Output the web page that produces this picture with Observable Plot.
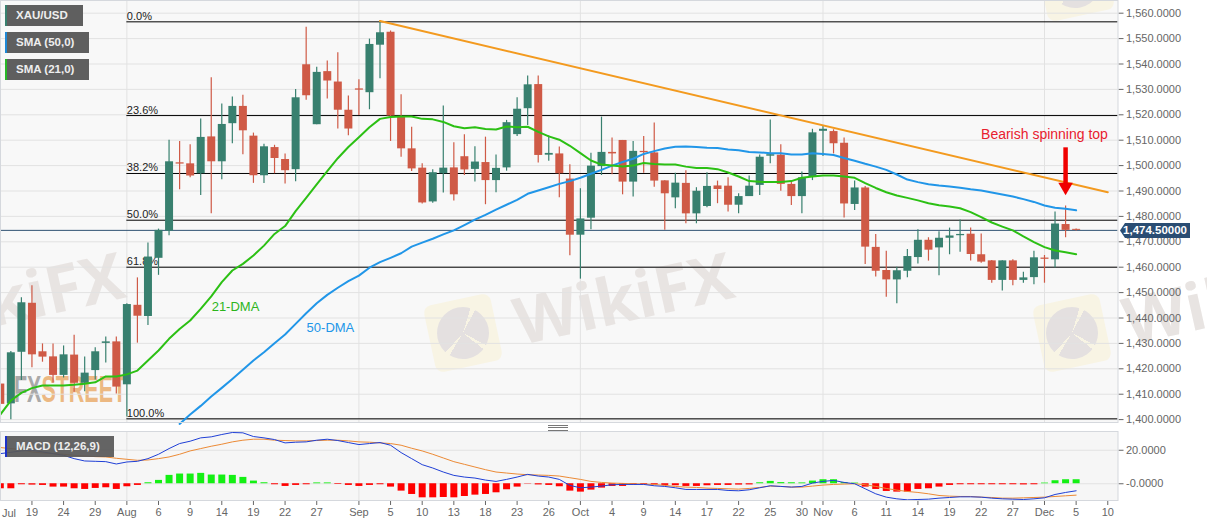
<!DOCTYPE html>
<html><head><meta charset="utf-8">
<script src="https://cdn.jsdelivr.net/npm/d3@7"></script>
<script src="https://cdn.jsdelivr.net/npm/@observablehq/plot@0.6"></script>
<style>
html,body{margin:0;padding:0;background:#fff;overflow:hidden}
#stage{position:relative;width:1207px;height:526px;font-family:"Liberation Sans",Arial,sans-serif}
.abs{position:absolute}
#stage svg{position:absolute;background:transparent;font-family:"Liberation Sans",Arial,sans-serif}
.leg{position:absolute;left:5px;height:21px;line-height:21px;background:#5f5f5f;color:#eee;font-size:11.5px;font-weight:bold;padding-left:9px;box-sizing:border-box;border-left:2px solid}
.wm{position:absolute;white-space:nowrap;font-weight:bold;transform-origin:0 100%;color:#e8e4e2;font-size:65px;line-height:65px;transform:rotate(-12.5deg);font-family:"Open Sans","Liberation Sans",sans-serif}
.badge{position:absolute;width:68px;height:68px;background:#f8f4e4;border-radius:8px;transform:rotate(-12deg)}
.badge i{position:absolute;left:8px;top:8px;width:52px;height:52px;border-radius:50%;background:conic-gradient(#e4e0e0 0 8%,#f8f4e4 8% 11%,#e4e0e0 11% 36%,#f8f4e4 36% 39%,#e4e0e0 39% 62%,#f8f4e4 62% 65%,#e4e0e0 65%)}
</style></head><body>
<div id="stage"></div>
<script>
const opens=[1414,1406.2,1426.5,1445.8,1426.7,1424.7,1417.4,1425.4,1414.3,1419.3,1430,1430.6,1413.7,1445,1440.6,1463.5,1474.2,1501.1,1500.7,1496.8,1511.3,1501.5,1516.5,1523.3,1511.6,1496,1507.1,1502.4,1498.4,1539.7,1516.1,1537,1532.9,1521.8,1530.2,1528.7,1547.4,1552.5,1519,1506.6,1499,1485.7,1496.8,1499.1,1503.5,1498.5,1501.2,1494.1,1499.1,1512.2,1522.4,1531.9,1504.1,1504.6,1494.7,1472.6,1479.3,1499.6,1505.2,1509.9,1493.5,1505.6,1505,1494,1487.3,1493,1481,1483.9,1492,1491.9,1484.4,1487.8,1492.2,1503.7,1504.1,1492.6,1487.8,1495.7,1513.5,1513.4,1508.8,1484.7,1491.2,1467.8,1458.7,1455,1458.4,1463.8,1470.6,1467.6,1471.4,1472.4,1473,1464.9,1462.5,1454.8,1462.5,1454.8,1455.9,1463.6,1462.9,1476.8,1474.9];
const highs=[1418,1426.8,1448,1452.7,1429.8,1429.8,1429,1433.2,1424.6,1428.3,1432.5,1432.5,1445.6,1455.8,1469.5,1475,1510,1509.5,1508.2,1518.3,1534.6,1524.3,1527,1527.7,1512.8,1508.4,1508,1504.6,1530,1554.5,1538.7,1541.2,1544.4,1527.4,1533.8,1549.8,1556.9,1553,1527.9,1515.1,1500.7,1498.4,1523.5,1509,1512.1,1507.4,1511.2,1504.2,1517.8,1526.7,1535.3,1535.3,1511.8,1507.3,1500.3,1490.9,1504.9,1519.1,1510.9,1509.9,1509.5,1511.5,1516.8,1494,1497,1498,1491.3,1497.2,1493.9,1495.2,1488.9,1495.9,1504.2,1518,1508.2,1493.5,1497.5,1514.3,1515.4,1514.1,1510.9,1493.9,1491.8,1472.9,1466.3,1460,1467,1474.7,1471.6,1474,1475.4,1478.6,1475.4,1473.1,1462.6,1462.5,1462.9,1458,1466.3,1464.6,1481.7,1484.1,1475];
const lows=[1402,1399.9,1415.4,1420.4,1422.6,1414.3,1416.4,1410.8,1411,1415.6,1422.3,1410.1,1401,1430.1,1437,1456.8,1472.4,1490.5,1495.2,1488.2,1481,1494.4,1508.6,1504.3,1493,1493,1496.8,1492.8,1493.6,1525.7,1516.1,1526.2,1514.4,1511.8,1519.7,1522,1534.2,1509.5,1503.3,1497.7,1484.9,1485.2,1489.2,1486.1,1496.1,1493.5,1484.6,1489.3,1497.8,1511.5,1515.8,1501,1501.7,1487.3,1464.5,1455.3,1474.7,1496.1,1496.4,1488.5,1487.6,1497,1491.5,1474.5,1483,1477.1,1477.1,1483.4,1485,1481.7,1481,1487.8,1488.2,1500.7,1489.9,1484.3,1481,1494.1,1503.6,1504.6,1479.4,1482.3,1461.1,1456.1,1448.2,1445.6,1455.8,1461.3,1462.4,1456.6,1464.9,1465.9,1462.4,1461.6,1453.7,1450.6,1452.7,1453.7,1453.1,1453.7,1459.7,1471.6,1474.3];
const closes=[1406,1426.3,1446,1425.5,1424.6,1417.4,1425.5,1414.3,1418.3,1426.7,1430.6,1412.8,1445.3,1440.7,1464,1474.5,1501.5,1500.6,1495.9,1511.1,1501.5,1516.2,1523.3,1513.7,1496,1507.4,1502.8,1498,1526.7,1527.5,1536.7,1533.3,1521.8,1514.4,1529.7,1547.7,1552.3,1519.5,1506.6,1498.7,1485.3,1497.2,1499,1488.5,1498.3,1501.4,1494.1,1498.9,1516.9,1522.2,1531.8,1504,1504.8,1496.8,1472.6,1479,1499.8,1505.2,1504.6,1493.5,1505.6,1505.1,1493.9,1488.9,1493.1,1481,1489.9,1491.8,1490.6,1484.4,1487.8,1491.9,1503.3,1504.3,1492.6,1487.8,1495.2,1512.9,1514.3,1508.6,1484.9,1491.2,1467.9,1458.4,1455,1458.6,1464.2,1470.6,1466.7,1471.4,1472.3,1472.9,1465,1462,1454.8,1462.5,1454.8,1455.8,1463.7,1463.1,1477,1474.5,1474.5];
const sma21=[1402,1407.5,1410.5,1412.4,1413.4,1413.4,1413.4,1413.7,1414.1,1414.7,1417,1417,1417.8,1419.3,1423.3,1427.2,1431.8,1435.7,1439,1443.6,1448.5,1454.1,1458.7,1461.3,1464.6,1468.5,1473.1,1476.2,1482.1,1487.3,1492.6,1497.8,1502.9,1507.3,1511.2,1515.1,1518.4,1519.1,1519.3,1519.3,1518.4,1518.2,1517.2,1515.5,1514.7,1515.1,1514.4,1514.2,1515.4,1515.1,1515.3,1513.3,1511.5,1510.2,1507.8,1504.9,1502,1500.4,1500,1499.6,1500,1501,1500.6,1500.4,1500.4,1499.6,1499.1,1499.1,1498.6,1497.3,1495.7,1493.9,1493.6,1493.5,1493.5,1493.9,1495.2,1495.7,1496.1,1496.1,1495.7,1495.2,1493.1,1491.2,1489.5,1488.2,1487.3,1486.3,1485.2,1484.4,1483.9,1483.2,1481.7,1479.7,1477.6,1476,1474.5,1472.1,1469.9,1467.9,1466.6,1465.9,1465.1];
const sma50Start=17;
const sma50=[1398.3,1402,1405.4,1409.1,1412.5,1416,1419.6,1423.3,1426.5,1430.1,1433.5,1437.7,1441.9,1445.8,1449.1,1451.9,1454.5,1456.7,1459.8,1462,1463.7,1465.5,1468.1,1469.7,1471.2,1472.9,1474.5,1476.6,1478.7,1480.6,1482.7,1484.6,1486.5,1488.9,1490.2,1491.5,1492.8,1493.9,1495.2,1496.8,1498.3,1500,1501.4,1502.7,1504.6,1505.7,1506.7,1507.4,1507.5,1507.3,1507,1506.9,1506.3,1506,1505.4,1505.2,1504.9,1504.9,1504.4,1504.4,1504.9,1504.6,1504.2,1503,1501.9,1500.7,1499.6,1498.3,1496.5,1494.5,1493.5,1492.7,1492.2,1491.8,1491.3,1490.7,1490.2,1489.4,1488.6,1487.8,1486.8,1485.7,1484.3,1483.4,1483,1482.4];
const macd=[18,18.8,19.6,20,19,18,17,15,13.6,13.4,13.2,11.8,13,13.4,15,17.6,21,24,25.4,27.4,28,29.4,30.6,30.4,28.2,27.4,26.4,24.4,24.8,25,26,26.6,25.8,24.6,23.4,24,24.6,23,18.6,15,11.4,9.4,7,5,4,3.4,2.2,1.4,2.6,4,5.6,4.6,4,2.6,-1,-2.4,-2,-1.4,-0.6,-0.4,-0.4,-0.4,-1.2,-1.6,-2.4,-3.4,-3.4,-3.4,-3.4,-4,-4.2,-3.6,-2.4,-1.2,-1.6,-2,-1.6,0.4,1.4,2,0.8,0,-3,-6,-8,-9,-9.6,-9.4,-9.2,-8.6,-8.2,-7.8,-7.8,-8,-8.6,-9,-9.2,-9.4,-9,-8.4,-6.4,-5.2,-4.2];
const signal=[21.6,21,20.4,19,18.4,18,17.6,17,16.6,16.2,16,15.2,14.6,14,14.2,15,16,17.6,19.6,21,22.4,23.6,25,26,26.6,26.6,26,25.8,25.6,25.6,25.8,26,26,25.6,25,24.8,24.4,24,23,21.2,19.6,17.6,15.4,13.2,11.6,10,8.4,7,6.4,5.8,5.4,5.2,5,4.6,3.6,2.6,1.4,0.8,0.4,0.2,0,-0.2,-0.4,-1,-1.6,-2,-2.2,-2.6,-2.8,-3,-3.2,-2.8,-2.2,-1.4,-1.6,-2,-2,-1.4,-0.8,-0.4,-0.2,0,-0.6,-1.6,-2.8,-3.8,-4.6,-5.2,-6,-7,-7.4,-7.6,-7.6,-8,-8.2,-8.6,-8.6,-8.4,-8.2,-8,-7.6,-7.2,-6.8];
const hist=[-3,-3,-0.6,-0.8,-1,-2,-2,-3,-3.4,-2.8,-2.4,-3.4,-1.8,-1,0.6,2,5,5.8,5.8,6.2,5.2,5.2,5,3.8,1.6,0.6,-0.6,-1.6,-1,-0.6,0.5,0.5,-0.4,-1,-1.6,-1,-0.6,-2,-4.4,-6.4,-8.4,-8.4,-8.2,-8.4,-7.6,-6.8,-6.4,-5.4,-3.6,-2,-0.2,-0.7,-1,-1.8,-4.4,-5,-3.8,-2.6,-1.6,-1.6,-0.7,-0.5,-0.7,-1,-1.2,-1.6,-1.6,-1.2,-1,-1,-0.8,-0.7,0.6,1.4,0.7,0.6,0.5,1.6,2.4,2.4,0.7,0.4,-2,-3.4,-4.6,-5,-5,-3.4,-3,-2,-1,-0.6,-0.6,-0.6,-0.6,-0.6,-0.6,-0.7,-0.6,0.4,1.8,2.4,2.4];
const fibLevels=[1556.6,1519.7,1496.9,1478.5,1460,1400.3];
const fibLabels=["0.0%","23.6%","38.2%","50.0%","61.8%","100.0%"];
const trendLine=[{i:36,p:1556.9},{i:105,p:1489.5}];
const currentPrice=1474.5;
const priceTicks=[1400,1410,1420,1430,1440,1450,1460,1470,1480,1490,1500,1510,1520,1530,1540,1550,1560];
const monthBars=[12,34,55,78,99];
const tickBars=[3,6,9,12,15,18,21,24,27,30,34,37,40,43,46,49,52,55,58,61,64,67,70,73,76,78,81,84,87,90,93,96,99,102,105];
const tickLabels=["19","24","29","Aug","6","9","14","19","22","27","Sep","5","10","13","18","23","26","Oct","4","9","14","17","22","25","30","Nov","6","11","14","19","22","27","Dec","5","10"];

const candles=opens.map((o,i)=>({i,o,h:highs[i],l:lows[i],c:closes[i],col:closes[i]>=o?"#38806f":"#cf5a46"}));
const s21=sma21.map((p,i)=>({i,p}));
const s50=sma50.map((p,k)=>({i:k+sma50Start,p}));
const m=macd.map((v,i)=>({i,v}));
const sg=signal.map((v,i)=>({i,v}));
const h=hist.map((v,i)=>({i,v,col:v>=0?"#14f014":"#ff0000"}));
const fib=fibLevels.map((p,k)=>({p,t:fibLabels[k]}));
const xDomain=[0.019,105.97];
const W=1207, MR=89.5;
const gridCol="#e2e2e2";
const numFmt=d3.format(",.4f");

const stage=document.getElementById("stage");
function addDiv(cls,css,txt){const d=document.createElement("div");d.className=cls;d.style.cssText=css;if(txt)d.textContent=txt;stage.appendChild(d);return d;}

// panels
addDiv("abs","left:0;top:0;width:1117.5px;height:422.5px;background:#f8f8f8");
addDiv("abs","left:0;top:431px;width:1117.5px;height:69px;background:#f6f6f6");
// watermarks
[[463,333],[1072,333],[-146,333],[1075,-18]].forEach(([x,y])=>{
  const b=addDiv("badge",`left:${x-34}px;top:${y-34}px`);b.appendChild(document.createElement("i"));
});
[-87,522,1131].forEach(x=>addDiv("wm",`left:${x}px;top:288px`,"WikiFX"));
const fx=addDiv("abs","left:14px;top:371px;font-weight:bold;font-size:37px;line-height:37px;white-space:nowrap;transform-origin:0 0;transform:scaleX(.58);color:#ecb882");
fx.innerHTML='<span style="color:#a9a9a9">FX</span>STREET';

const main=Plot.plot({
  width:W,height:430,marginTop:0,marginBottom:8,marginLeft:0,marginRight:MR,
  x:{domain:xDomain,axis:null},
  y:{domain:[1398.86,1565],axis:null},
  marks:[
    Plot.ruleY(priceTicks,{stroke:gridCol}),
    Plot.ruleX(monthBars,{stroke:gridCol}),
    Plot.axisY(priceTicks,{anchor:"right",tickSize:5,tickPadding:3,tickFormat:numFmt,label:null,fontSize:11,color:"#666"}),
    Plot.ruleY([currentPrice],{stroke:"#2f5272",strokeWidth:1}),
    Plot.ruleY(fib,{y:"p",x1:12,x2:xDomain[1],stroke:"#000",strokeWidth:1}),
    Plot.text(fib,{x:12,y:"p",text:"t",textAnchor:"start",lineAnchor:"bottom",dy:-2,dx:0,fontSize:11,fill:"#222"}),
    Plot.ruleX(candles,{x:"i",y1:"l",y2:"h",stroke:"col",strokeWidth:1.2}),
    Plot.ruleX(candles,{x:"i",y1:"o",y2:"c",stroke:"col",strokeWidth:8}),
    Plot.line(trendLine,{x:"i",y:"p",stroke:"#f39a1f",strokeWidth:2}),
    Plot.line(s50,{x:"i",y:"p",stroke:"#2196e8",strokeWidth:2}),
    Plot.line(s21,{x:"i",y:"p",stroke:"#2cc014",strokeWidth:2}),
    Plot.text(["21-DMA"],{x:22.3,y:1444.5,text:d=>d,fill:"#2cb51c",fontSize:13}),
    Plot.text(["50-DMA"],{x:31.3,y:1436.3,text:d=>d,fill:"#2196e8",fontSize:13}),
    Plot.text(["Bearish spinning top"],{x:99,y:1512.2,text:d=>d,fill:"#e8202e",fontSize:14}),
    Plot.ruleX([101],{y1:1507,y2:1491.6,stroke:"#f00000",strokeWidth:4.5}),
    Plot.dot([101],{x:d=>d,y:1491.6,symbol:"triangle",r:5.4,fill:"#f00000",rotate:180}),
    Plot.frame({stroke:"#d5d8dd"})
  ]
});
main.style.left="0";main.style.top="0";
stage.appendChild(main);

const lower=Plot.plot({
  width:W,height:95,marginTop:0,marginBottom:26,marginLeft:0,marginRight:MR,
  x:{domain:xDomain,axis:null},
  y:{domain:[-10,31.2],axis:null},
  marks:[
    Plot.ruleY([0,20],{stroke:gridCol}),
    Plot.ruleX(monthBars,{stroke:gridCol}),
    Plot.axisY([0,20],{anchor:"right",tickSize:5,tickPadding:3,tickFormat:v=>v===0?"-0.0000":d3.format(".4f")(v),label:null,fontSize:11,color:"#666"}),
    Plot.axisX(tickBars,{tickSize:5,tickPadding:3,tickFormat:(d,k)=>tickLabels[tickBars.indexOf(d)],label:null,fontSize:11,color:"#666"}),
    Plot.ruleX(h,{x:"i",y1:0,y2:"v",stroke:"col",strokeWidth:7}),
    Plot.line(sg,{x:"i",y:"v",stroke:"#ec8a35",strokeWidth:1}),
    Plot.line(m,{x:"i",y:"v",stroke:"#1f3fd6",strokeWidth:1}),
    Plot.frame({stroke:"#d5d8dd"})
  ]
});
lower.style.left="0";lower.style.top="431px";
stage.appendChild(lower);
addDiv("abs","left:2px;top:506px;font-size:11px;line-height:14px;color:#666","Jul");

// legends
[["XAU/USD","#38806f",5,78],["SMA (50,0)","#1e88d6",32,84],["SMA (21,0)","#28b828",59,84]].forEach(([t,c,y,w])=>{
  addDiv("leg",`top:${y}px;width:${w}px;border-left-color:${c}`,t);
});
addDiv("leg","top:436px;width:109px;border-left-color:#1c30c8;background:rgba(88,88,88,.93)","MACD (12,26,9)");

// divider grip
addDiv("abs","left:548px;top:425px;width:20px;height:4px;border-top:1px solid #777;border-bottom:1px solid #777;background:linear-gradient(#fff 0 1px,#777 1px 2px,#fff 2px)");

// price tag
addDiv("abs","left:1120px;top:223px;width:70px;height:15px;line-height:15px;background:#2a4d73;color:#fff;font-size:11.5px;font-weight:bold;text-align:right;padding-right:3px;box-sizing:border-box;clip-path:polygon(0 50%,5px 0,100% 0,100% 100%,5px 100%)","1,474.50000");
</script>
</body></html>
